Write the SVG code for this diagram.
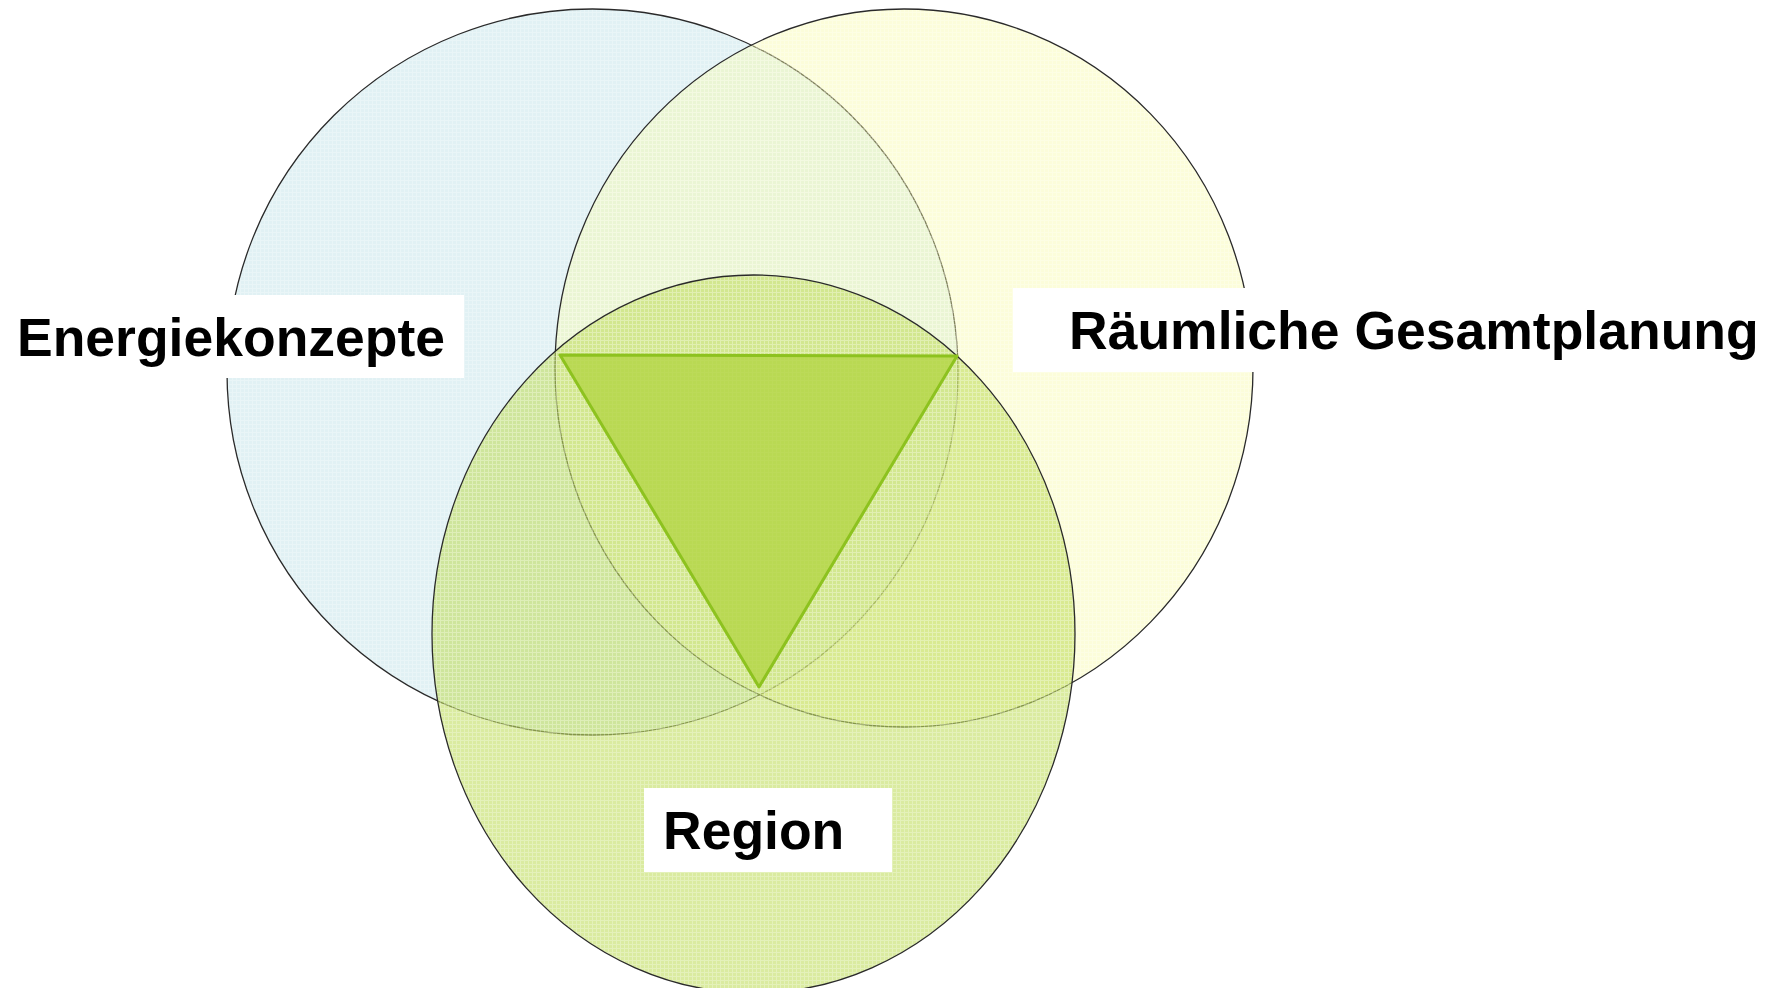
<svg xmlns="http://www.w3.org/2000/svg" width="1773" height="988" viewBox="0 0 1773 988">
<style>
.ring{stroke:#2a2a2a;stroke-width:1.3}
.tex{fill:url(#grid);stroke:none}
.box{fill:#ffffff}
.lbl{font-family:"Liberation Sans",Arial,sans-serif;font-weight:bold;font-size:53.5px;fill:#000000}
</style>
<defs>
<pattern id="grid" width="4" height="4" patternUnits="userSpaceOnUse">
<rect x="0" y="0" width="4" height="1" fill="#ffffff" fill-opacity="0.28"/>
<rect x="0" y="1" width="1" height="3" fill="#ffffff" fill-opacity="0.28"/>
</pattern>
</defs>
<rect x="0" y="0" width="1773" height="988" fill="#ffffff"/>
<g id="circle-energie">
<ellipse cx="592.5" cy="372" rx="365.5" ry="363" fill="#cfe9ee" fill-opacity="0.62"/>
<ellipse class="tex" cx="592.5" cy="372" rx="365.5" ry="363"/>
<ellipse class="ring" cx="592.5" cy="372" rx="365.5" ry="363" fill="none"/>
</g>
<g id="circle-raum">
<ellipse cx="904" cy="368" rx="349" ry="359" fill="#f7fba8" fill-opacity="0.42"/>
<ellipse class="tex" cx="904" cy="368" rx="349" ry="359"/>
<ellipse class="ring" cx="904" cy="368" rx="349" ry="359" fill="none"/>
</g>
<g id="circle-region">
<ellipse cx="753.5" cy="634" rx="321.5" ry="359" fill="#c2de60" fill-opacity="0.6"/>
<ellipse class="tex" cx="753.5" cy="634" rx="321.5" ry="359"/>
<ellipse class="ring" cx="753.5" cy="634" rx="321.5" ry="359" fill="none"/>
</g>
<g id="triangle-center">
<polygon points="560,355 957,356 759,687" fill="#b3d646" fill-opacity="0.82" stroke="#8dc21f" stroke-width="3" stroke-linejoin="round"/>
</g>
<g id="label-energiekonzepte">
<rect class="box" x="0" y="295" width="464" height="83"/>
<text class="lbl" x="17" y="356">Energiekonzepte</text>
</g>
<g id="label-raeumliche">
<rect class="box" x="1013" y="288" width="760" height="84"/>
<text class="lbl" x="1069" y="349">Räumliche Gesamtplanung</text>
</g>
<g id="label-region">
<rect class="box" x="644" y="788" width="248" height="84"/>
<text class="lbl" x="663" y="849">Region</text>
</g>
<g id="connectors"/>
</svg>
